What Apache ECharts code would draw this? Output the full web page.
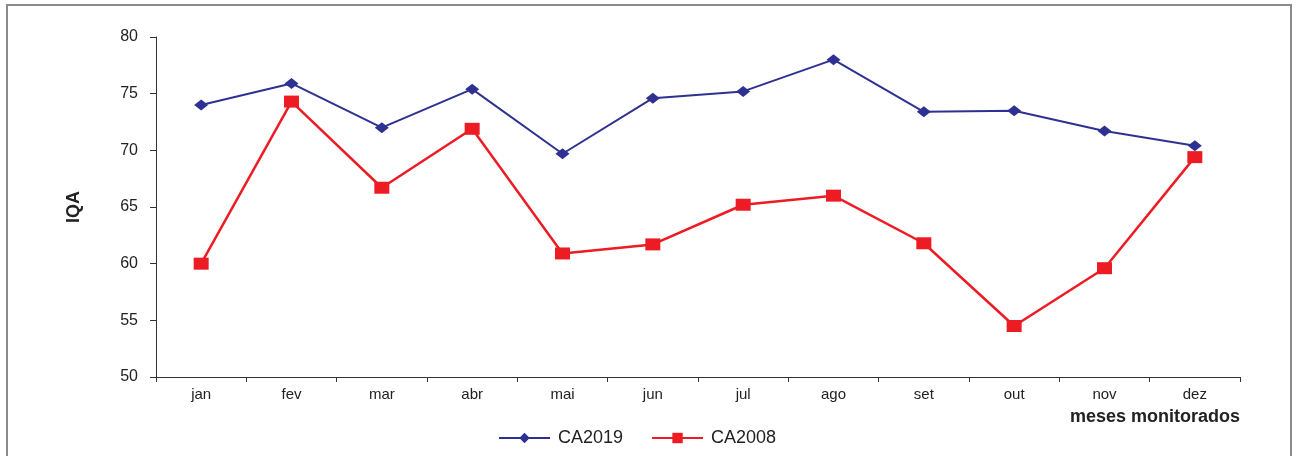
<!DOCTYPE html>
<html><head><meta charset="utf-8">
<script src="https://cdn.jsdelivr.net/npm/echarts@6/dist/echarts.min.js"></script>
<style>html,body{margin:0;padding:0;background:#fff}#c{width:1298px;height:456px}</style>
</head><body><div id="c"></div>
<script>
const months = ['jan','fev','mar','abr','mai','jun','jul','ago','set','out','nov','dez'];
const ca2019 = [74.0, 75.9, 72.0, 75.4, 69.7, 74.6, 75.2, 78.0, 73.4, 73.5, 71.7, 70.4];
const ca2008 = [60.0, 74.3, 66.7, 71.9, 60.9, 61.7, 65.2, 66.0, 61.8, 54.5, 59.6, 69.4];
const yTicks = [50, 55, 60, 65, 70, 75, 80];

const chart = echarts.init(document.getElementById('c'));
const font = 'Liberation Sans, Arial, sans-serif';
chart.setOption({
  animation: false,
  graphic: [{
    type: 'polyline', silent: true,
    shape: { points: [[7, 460], [7, 5], [1291, 5], [1291, 460]] },
    style: { stroke: '#8a8a8a', lineWidth: 2, fill: null }
  }],
  grid: { left: 156, right: 58, top: 37, bottom: 79 },
  legend: {
    bottom: 4, left: 493, itemWidth: 51, itemHeight: 13, itemGap: 28,
    textStyle: { fontFamily: font, fontSize: 18, color: '#222', padding: [0, 0, 0, 3] },
    data: ['CA2019', 'CA2008']
  },
  xAxis: {
    type: 'category', data: months, boundaryGap: true,
    name: 'meses monitorados', nameLocation: 'end',
    nameGap: 0,
    nameTextStyle: { fontFamily: font, fontSize: 18, fontWeight: 'bold', color: '#222',
      align: 'right', verticalAlign: 'top', padding: [31, 0, 0, 0] },
    axisLine: { lineStyle: { color: '#333', width: 1 } },
    axisTick: { show: true, length: 5, lineStyle: { color: '#333' } },
    axisLabel: { fontFamily: font, fontSize: 15, color: '#222', margin: 10 }
  },
  yAxis: {
    type: 'value', min: 50, max: 80, interval: 5,
    name: 'IQA', nameLocation: 'middle', nameGap: 73, nameRotate: 90,
    nameTextStyle: { fontFamily: font, fontSize: 18, fontWeight: 'bold', color: '#222' },
    splitLine: { show: false },
    axisLine: { show: true, lineStyle: { color: '#333', width: 1 } },
    axisTick: { show: true, length: 6, lineStyle: { color: '#333' } },
    axisLabel: { fontFamily: font, fontSize: 16, color: '#222', margin: 18,
      formatter: v => yTicks.includes(v) ? String(v) : '' }
  },
  series: [
    { name: 'CA2019', type: 'line', data: ca2019, symbol: 'diamond', symbolSize: [14, 11],
      lineStyle: { color: '#2E3192', width: 2 }, itemStyle: { color: '#2E3192' } },
    { name: 'CA2008', type: 'line', data: ca2008, symbol: 'rect', symbolSize: [15, 12],
      lineStyle: { color: '#ED1C24', width: 2.5 }, itemStyle: { color: '#ED1C24' } }
  ]
});
</script></body></html>
